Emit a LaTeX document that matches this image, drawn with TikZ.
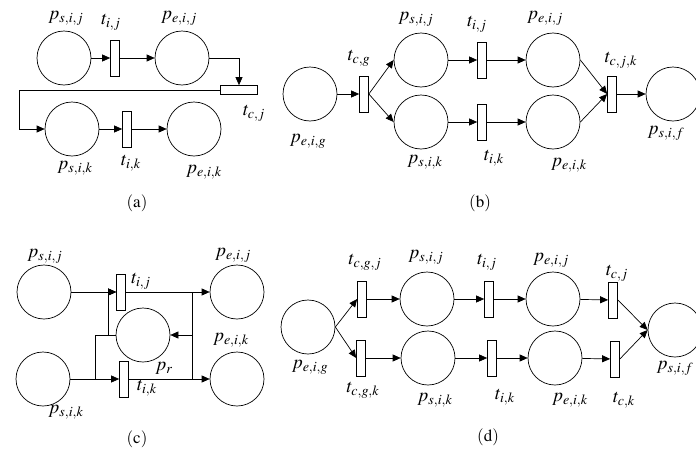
\documentclass[tikz,border=0pt]{standalone}
\usepackage{mathptmx}
\usetikzlibrary{arrows.meta,calc}

\begin{document}
\begin{tikzpicture}[x=1pt,y=-1pt,line width=.7pt,
  place/.style={circle,draw,minimum size=54pt,inner sep=0pt},
  trans/.style={rectangle,draw,minimum width=9pt,minimum height=36pt,inner sep=0pt},
  arr/.style={-{Triangle[length=8pt,width=7pt]}},
  lbl/.style={inner sep=0pt,font=\fontsize{19}{21}\selectfont},
  capt/.style={inner sep=0pt,font=\fontsize{17}{19}\selectfont}]
  \useasboundingbox (0,0) rectangle (696,450);

  % (a)
  \node[place] (a-psij) at (64,58) {};
  \node[trans] (a-tij) at (115,58) {};
  \node[place] (a-peij) at (182,58) {};
  \node[trans,minimum width=37pt,minimum height=9pt] (a-tcj) at (239,90) {};
  \node[place] (a-psik) at (72,129) {};
  \node[trans] (a-tik) at (127,129) {};
  \node[place] (a-peik) at (194,129) {};
  \coordinate (a-bend) at (19,90);
  \draw[arr] (a-psij) -- (a-tij);
  \draw[arr] (a-tij) -- (a-peij);
  \draw[arr] (a-peij.east) -| (a-tcj.north);
  \draw[arr] (a-tcj.west) -- (a-bend) |- (a-psik.west);
  \draw[arr] (a-psik) -- (a-tik);
  \draw[arr] (a-tik) -- (a-peik);
  \node[lbl] (a-lpsij) at (66,18) {$p_{s,i,j}$};
  \node[lbl] (a-ltij) at (111,22) {$t_{i,j}$};
  \node[lbl] (a-lpeij) at (179,18) {$p_{e,i,j}$};
  \node[lbl] (a-ltcj) at (254,113) {$t_{c,j}$};
  \node[lbl] (a-lpsik) at (75,168) {$p_{s,i,k}$};
  \node[lbl] (a-ltik) at (131,163) {$t_{i,k}$};
  \node[lbl] (a-lpeik) at (204,172) {$p_{e,i,k}$};
  \node[capt] (a-cap) at (137,203) {$(\mathrm{a})$};

  % (b)
  \node[place] (b-peig) at (310,94) {};
  \node[trans] (b-tcg) at (364,94) {};
  \node[place] (b-psij) at (421,60) {};
  \node[place] (b-psik) at (421,122) {};
  \node[trans] (b-tij) at (482,60) {};
  \node[trans] (b-tik) at (482,122) {};
  \node[place] (b-peij) at (553,60) {};
  \node[place] (b-peik) at (553,122) {};
  \node[trans] (b-tcjk) at (612,94) {};
  \node[place] (b-psif) at (673,94) {};
  \draw[arr] (b-peig) -- (b-tcg);
  \draw[arr] (b-tcg.east) -- (b-psij.west);
  \draw[arr] (b-tcg.east) -- (b-psik.west);
  \draw[arr] (b-psij) -- (b-tij);
  \draw[arr] (b-psik) -- (b-tik);
  \draw[arr] (b-tij) -- (b-peij);
  \draw[arr] (b-tik) -- (b-peik);
  \draw[arr] (b-peij.east) -- (b-tcjk.west);
  \draw[arr] (b-peik.east) -- (b-tcjk.west);
  \draw[arr] (b-tcjk) -- (b-psif);
  \node[lbl] (b-lpsij) at (416,19) {$p_{s,i,j}$};
  \node[lbl] (b-ltij) at (477,24) {$t_{i,j}$};
  \node[lbl] (b-lpeij) at (545,18) {$p_{e,i,j}$};
  \node[lbl] (b-ltcg) at (359,58) {$t_{c,g}$};
  \node[lbl] (b-ltcjk) at (621,60) {$t_{c,j,k}$};
  \node[lbl] (b-lpeig) at (308,141) {$p_{e,i,g}$};
  \node[lbl] (b-lpsik) at (425,162) {$p_{s,i,k}$};
  \node[lbl] (b-ltik) at (494,158) {$t_{i,k}$};
  \node[lbl] (b-lpeik) at (569,165) {$p_{e,i,k}$};
  \node[lbl] (b-lpsif) at (666,133) {$p_{s,i,f}$};
  \node[capt] (b-cap) at (480,203) {$(\mathrm{b})$};

  % (c)
  \node[place] (c-psij) at (44,292) {};
  \node[trans] (c-tij) at (121,292) {};
  \node[place] (c-peij) at (237,292) {};
  \node[place] (c-pr) at (143,335) {};
  \node[place] (c-psik) at (43,379) {};
  \node[trans] (c-tik) at (124,379) {};
  \node[place] (c-peik) at (237,379) {};
  \coordinate (c-ra) at (192,292);
  \coordinate (c-rb) at (192,379);
  \coordinate (c-la) at (108,335);
  \coordinate (c-lb) at (95,335);
  \draw[arr] (c-psij) -- (c-tij);
  \draw[arr] (c-tij) -- (c-peij);
  \draw[arr] (c-psik) -- (c-tik);
  \draw[arr] (c-tik) -- (c-peik);
  \draw (c-ra) -- (c-rb);
  \draw[arr] (c-ra |- c-pr) -- (c-pr.east);
  \draw (c-pr.west) -- (c-lb) -- (c-lb |- c-tik);
  \draw[arr] (c-la) |- (c-tij.west);
  \node[lbl] (c-lpsij) at (45,256) {$p_{s,i,j}$};
  \node[lbl] (c-ltij) at (141,281) {$t_{i,j}$};
  \node[lbl] (c-lpeij) at (233,255) {$p_{e,i,j}$};
  \node[lbl] (c-lpeik) at (231,340) {$p_{e,i,k}$};
  \node[lbl] (c-lpr) at (164,368) {$p_r$};
  \node[lbl] (c-ltik) at (147,388) {$t_{i,k}$};
  \node[lbl] (c-lpsik) at (66,412) {$p_{s,i,k}$};
  \node[capt] (c-cap) at (137,439) {$(\mathrm{c})$};

  % (d)
  \node[place] (d-peig) at (308,327) {};
  \node[trans] (d-tcgj) at (362,299) {};
  \node[trans] (d-tcgk) at (361,358) {};
  \node[place] (d-psij) at (427,299) {};
  \node[place] (d-psik) at (428,358) {};
  \node[trans] (d-tij) at (489,299) {};
  \node[trans] (d-tik) at (492,358) {};
  \node[place] (d-peij) at (553,299) {};
  \node[place] (d-peik) at (555,358) {};
  \node[trans] (d-tcj) at (613,300) {};
  \node[trans] (d-tck) at (615,359) {};
  \node[place] (d-psif) at (675,330) {};
  \draw[arr] (d-peig.east) -- (d-tcgj.west);
  \draw[arr] (d-peig.east) -- (d-tcgk.west);
  \draw[arr] (d-tcgj) -- (d-psij);
  \draw[arr] (d-tcgk) -- (d-psik);
  \draw[arr] (d-psij) -- (d-tij);
  \draw[arr] (d-psik) -- (d-tik);
  \draw[arr] (d-tij) -- (d-peij);
  \draw[arr] (d-tik) -- (d-peik);
  \draw[arr] (d-peij) -- (d-tcj);
  \draw[arr] (d-peik) -- (d-tck);
  \draw[arr] (d-tcj.east) -- (d-psif.west);
  \draw[arr] (d-tck.east) -- (d-psif.west);
  \node[lbl] (d-ltcgj) at (365,262) {$t_{c,g,j}$};
  \node[lbl] (d-lpsij) at (426,257) {$p_{s,i,j}$};
  \node[lbl] (d-ltij) at (487,262) {$t_{i,j}$};
  \node[lbl] (d-lpeij) at (551,260) {$p_{e,i,j}$};
  \node[lbl] (d-ltcj) at (617,273) {$t_{c,j}$};
  \node[lbl] (d-lpeig) at (310,367) {$p_{e,i,g}$};
  \node[lbl] (d-ltcgk) at (363,390) {$t_{c,g,k}$};
  \node[lbl] (d-lpsik) at (435,400) {$p_{s,i,k}$};
  \node[lbl] (d-ltik) at (505,397) {$t_{i,k}$};
  \node[lbl] (d-lpeik) at (570,400) {$p_{e,i,k}$};
  \node[lbl] (d-ltck) at (624,400) {$t_{c,k}$};
  \node[lbl] (d-lpsif) at (675,368) {$p_{s,i,f}$};
  \node[capt] (d-cap) at (488,437) {$(\mathrm{d})$};
\end{tikzpicture}
\end{document}
